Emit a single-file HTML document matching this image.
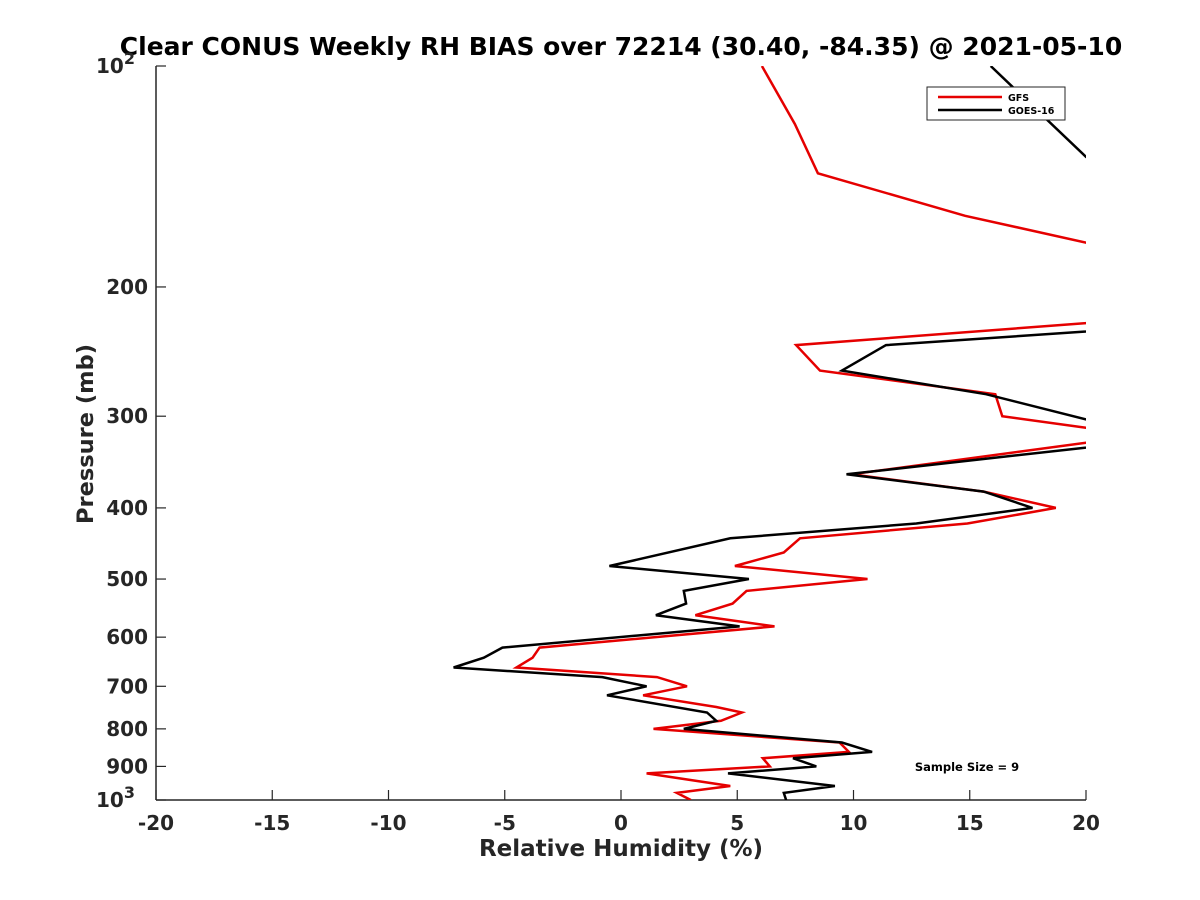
<!DOCTYPE html>
<html><head><meta charset="utf-8"><style>
body{margin:0;background:#fff}
svg{display:block;font-family:"DejaVu Sans","Liberation Sans",sans-serif;font-weight:bold}
</style></head><body>
<svg id="chart" width="1200" height="900" viewBox="0 0 1200 900" xmlns="http://www.w3.org/2000/svg">
<defs><clipPath id="plotclip"><rect x="156" y="66" width="930" height="734"/></clipPath></defs>
<text x="621" y="55" text-anchor="middle" font-size="25" fill="#000">Clear CONUS Weekly RH BIAS over 72214 (30.40, -84.35) @ 2021-05-10</text>
<g id="axes"></g>
<g id="series" clip-path="url(#plotclip)"></g>
<text x="621" y="856" text-anchor="middle" font-size="23" fill="#262626">Relative Humidity (%)</text>
<text transform="translate(93,434) rotate(-90)" text-anchor="middle" font-size="22.5" fill="#262626">Pressure (mb)</text>
<text x="967" y="771" text-anchor="middle" font-size="11.5" fill="#000">Sample Size = 9</text>
<g>
<rect x="927" y="87" width="138" height="33" fill="#fff" stroke="#262626" stroke-width="1"/>
<line x1="938" y1="97" x2="1002" y2="97" stroke="#e50000" stroke-width="2.5"/>
<text x="1008" y="101" font-size="9.5" fill="#000">GFS</text>
<line x1="938" y1="110" x2="1002" y2="110" stroke="#000" stroke-width="2.5"/>
<text x="1008" y="114" font-size="9.5" fill="#000">GOES-16</text>
</g>
</svg>
<script>
const xTicks = [-20,-15,-10,-5,0,5,10,15,20];
const yTicks = [100,200,300,400,500,600,700,800,900,1000];
const yTickLabels = ["10²","200","300","400","500","600","700","800","900","10³"];
const gfsP  = [100,120,140,160,174,200,224,240,260,280,300,311,320,326,360,380,400,420,440,460,480,500,519,540,560,580,620,640,660,680,700,720,747,760,780,800,835,860,877,900,920,957,978,1000];
const gfsRH = [6.06,7.48,8.47,14.8,20.0,24,20.0,7.53,8.56,16.1,16.4,20.0,23,20.0,9.9,15.6,18.7,14.9,7.7,7.0,4.9,10.6,5.4,4.8,3.2,6.6,-3.5,-3.8,-4.5,1.55,2.84,0.95,4.1,5.2,4.3,1.4,9.4,9.8,6.1,6.4,1.1,4.7,2.4,3.0];
const goesP  = [100,133,200,230,240,260,280,303,318,331,360,380,400,420,440,480,500,519,540,560,580,620,640,660,680,700,720,760,780,800,835,860,877,900,920,957,978,1000];
const goesRH = [15.9,20.0,30,20.0,11.4,9.5,15.7,20.0,23,20.0,9.7,15.6,17.7,12.7,4.7,-0.5,5.5,2.7,2.8,1.5,5.1,-5.1,-5.9,-7.2,-0.8,1.1,-0.6,3.7,4.1,2.7,9.5,10.8,7.4,8.4,4.6,9.2,7.0,7.1];

const X0=156,X1=1086,Y0=66,Y1=800;
function xs(v){return X0+(v+20)/40*(X1-X0);}
function ys(p){return Y0+(Math.log10(p)-2)*(Y1-Y0);}
const NS="http://www.w3.org/2000/svg";
const axes=document.getElementById('axes');
const series=document.getElementById('series');
function mk(tag,attrs,parent){const e=document.createElementNS(NS,tag);for(const k in attrs)e.setAttribute(k,attrs[k]);parent.appendChild(e);return e;}

const yAxis=mk('line',{x1:X0,y1:Y0,x2:X0,y2:Y1,stroke:'#262626','stroke-width':1.5},axes);


const xAxis=mk('line',{x1:X0,y1:Y1,x2:X1,y2:Y1,stroke:'#262626','stroke-width':1.5},axes);



xTicks.forEach(v=>{
  const t=mk('line',{x1:xs(v),y1:Y1,x2:xs(v),y2:Y1-10,stroke:'#262626','stroke-width':1.2},axes);
  
  
  const l=mk('text',{x:xs(v),y:Y1+30,'text-anchor':'middle','font-size':20,fill:'#262626'},axes);
  l.textContent=String(v);
  
  
});
yTicks.forEach((p,i)=>{
  const t=mk('line',{x1:X0,y1:ys(p),x2:X0+10,y2:ys(p),stroke:'#262626','stroke-width':1.2},axes);
  
  
  const lab=yTickLabels[i];
  const l=mk('text',{x:X0-8,y:ys(p)+7,'text-anchor':'end','font-size':20,fill:'#262626'},axes);
  
  
  if(lab.length===3 && (lab[2]==='²'||lab[2]==='³')){
    const base=mk('tspan',{},l); base.textContent='10';
    l.setAttribute('x',X0-21);
    const sup=mk('tspan',{dy:-9,'font-size':16},l); sup.textContent=lab[2]==='²'?'2':'3';
  } else l.textContent=lab;
});

function drawLine(P,V,color,name){
  const pts=P.map((p,i)=>xs(V[i]).toFixed(1)+','+ys(p).toFixed(1)).join(' ');
  const pl=mk('polyline',{points:pts,fill:'none',stroke:color,'stroke-width':2.5,'stroke-linejoin':'miter'},series);
  
  
}
drawLine(gfsP,gfsRH,'#e50000','gfs-line');
drawLine(goesP,goesRH,'#000000','goes-16-line');
</script>
</body></html>
